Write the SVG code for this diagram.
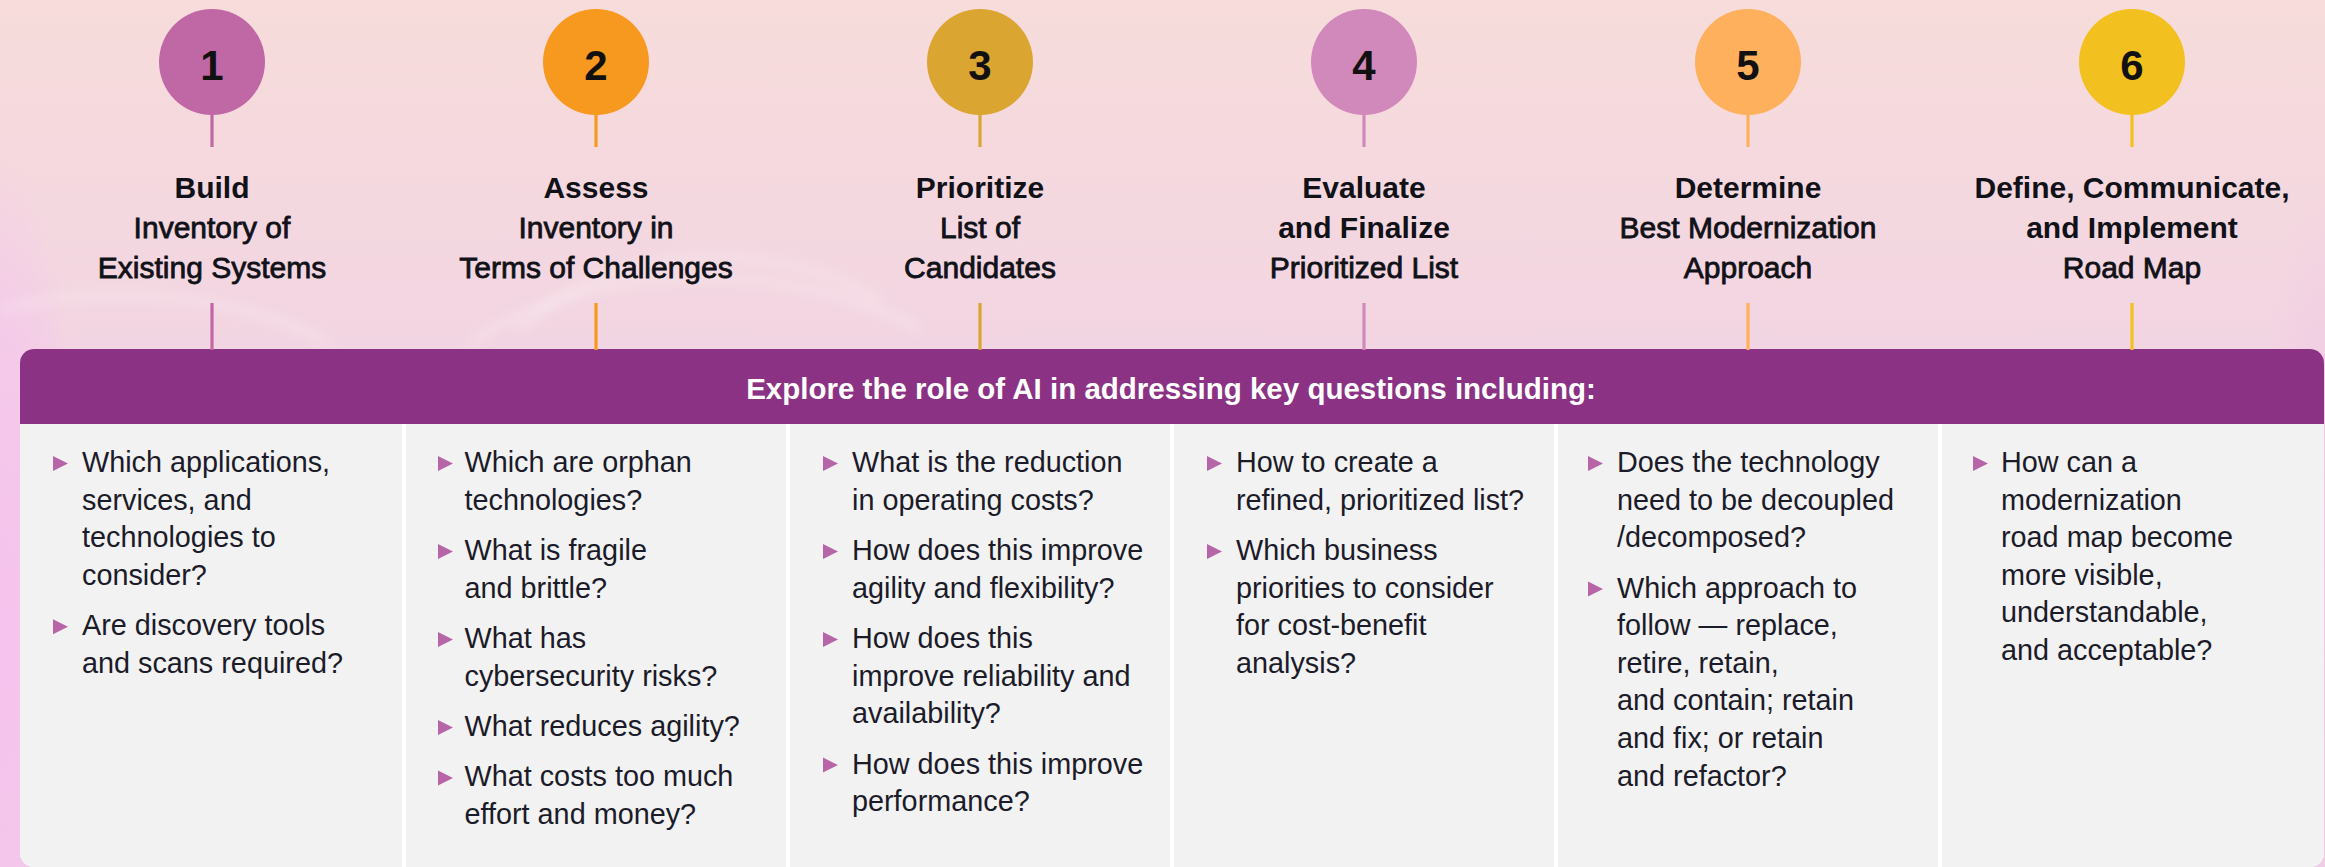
<svg xmlns="http://www.w3.org/2000/svg" xmlns:xlink="http://www.w3.org/1999/xlink" width="2325" height="867" viewBox="0 0 2325 867">
<style>
.num{font-family:"Liberation Sans",Arial,sans-serif;font-weight:bold;font-size:42px;fill:#111111;text-anchor:middle}
.tb{font-family:"Liberation Sans",Arial,sans-serif;font-weight:bold;font-size:30px;fill:#111118;text-anchor:middle}
.tm{font-family:"Liberation Sans",Arial,sans-serif;font-size:30px;fill:#111118;stroke:#111118;stroke-width:0.8;text-anchor:middle}
.hdr{font-family:"Liberation Sans",Arial,sans-serif;font-weight:bold;font-size:29.5px;fill:#ffffff;text-anchor:middle}
.q{font-family:"Liberation Sans",Arial,sans-serif;font-size:28.8px;fill:#1b1b29}
.col{fill:#f2f2f2}
.bul{fill:#b865a8}
</style>
<defs>
<linearGradient id="bg" x1="0" y1="0" x2="0" y2="1">
<stop offset="0" stop-color="#f7dcdb"/>
<stop offset="0.4" stop-color="#f2d5e2"/>
<stop offset="1" stop-color="#f0cfe6"/>
</linearGradient>
<radialGradient id="leftg" cx="0.5" cy="0.5" r="0.5">
<stop offset="0" stop-color="#f6c2ee" stop-opacity="1"/>
<stop offset="0.6" stop-color="#f6c2ee" stop-opacity="0.6"/>
<stop offset="1" stop-color="#f6c2ee" stop-opacity="0"/>
</radialGradient>
<radialGradient id="rightg" cx="0.5" cy="0.5" r="0.5">
<stop offset="0" stop-color="#f1c4e6" stop-opacity="0.8"/>
<stop offset="1" stop-color="#f1c4e6" stop-opacity="0"/>
</radialGradient>
<filter id="soft" x="-20%" y="-20%" width="140%" height="140%"><feGaussianBlur stdDeviation="6"/></filter>
<clipPath id="panelClip"><rect x="20" y="349" width="2304" height="518" rx="14" ry="14"/></clipPath>
<path id="tri" d="M0,0 L15,7.5 L0,15 Z"/>
</defs>

<!-- background -->
<rect x="0" y="0" width="2325" height="867" fill="url(#bg)"/>
<ellipse cx="0" cy="640" rx="90" ry="480" fill="url(#leftg)"/>
<ellipse cx="2325" cy="560" rx="70" ry="380" fill="url(#rightg)"/>
<g fill="none" stroke="#ffffff" stroke-opacity="0.35" stroke-width="5" filter="url(#soft)">
<path d="M520,330 C600,250 760,230 880,300"/>
<path d="M470,345 C560,270 780,250 920,330"/>
<path d="M0,310 C120,280 260,300 330,345"/>
</g>

<!-- panel -->
<g id="panel">
<rect x="20" y="349" width="2304" height="518" rx="14" ry="14" fill="#ffffff"/>
<g clip-path="url(#panelClip)">
<rect class="col" x="20" y="424" width="382" height="443"/>
<rect class="col" x="406" y="424" width="380" height="443"/>
<rect class="col" x="790" y="424" width="380" height="443"/>
<rect class="col" x="1174" y="424" width="380" height="443"/>
<rect class="col" x="1558" y="424" width="380" height="443"/>
<rect class="col" x="1942" y="424" width="382" height="443"/>
<rect x="20" y="349" width="2304" height="75" fill="#8b3284"/>
</g>
<text class="hdr" x="1171" y="399">Explore the role of AI in addressing key questions including:</text>
</g>

<!-- connectors -->
<g id="connectors" stroke-width="3.2">
<line x1="212" y1="112" x2="212" y2="147" stroke="#c067a6"/>
<line x1="212" y1="303" x2="212" y2="350" stroke="#c067a6"/>
<line x1="596" y1="112" x2="596" y2="147" stroke="#f7991f"/>
<line x1="596" y1="303" x2="596" y2="350" stroke="#f7991f"/>
<line x1="980" y1="112" x2="980" y2="147" stroke="#dba531"/>
<line x1="980" y1="303" x2="980" y2="350" stroke="#dba531"/>
<line x1="1364" y1="112" x2="1364" y2="147" stroke="#d188bb"/>
<line x1="1364" y1="303" x2="1364" y2="350" stroke="#d188bb"/>
<line x1="1748" y1="112" x2="1748" y2="147" stroke="#ffb05c"/>
<line x1="1748" y1="303" x2="1748" y2="350" stroke="#ffb05c"/>
<line x1="2132" y1="112" x2="2132" y2="147" stroke="#f2c11f"/>
<line x1="2132" y1="303" x2="2132" y2="350" stroke="#f2c11f"/>
</g>

<!-- steps -->
<g id="step1">
<circle cx="212" cy="62" r="53" fill="#c067a6"/>
<text class="num" x="212" y="80">1</text>
<text class="tb" x="212" y="198">Build</text>
<text class="tm" x="212" y="238">Inventory of</text>
<text class="tm" x="212" y="278">Existing Systems</text>
</g>
<g id="step2">
<circle cx="596" cy="62" r="53" fill="#f7991f"/>
<text class="num" x="596" y="80">2</text>
<text class="tb" x="596" y="198">Assess</text>
<text class="tm" x="596" y="238">Inventory in</text>
<text class="tm" x="596" y="278">Terms of Challenges</text>
</g>
<g id="step3">
<circle cx="980" cy="62" r="53" fill="#dba531"/>
<text class="num" x="980" y="80">3</text>
<text class="tb" x="980" y="198">Prioritize</text>
<text class="tm" x="980" y="238">List of</text>
<text class="tm" x="980" y="278">Candidates</text>
</g>
<g id="step4">
<circle cx="1364" cy="62" r="53" fill="#d188bb"/>
<text class="num" x="1364" y="80">4</text>
<text class="tb" x="1364" y="198">Evaluate</text>
<text class="tb" x="1364" y="238">and Finalize</text>
<text class="tm" x="1364" y="278">Prioritized List</text>
</g>
<g id="step5">
<circle cx="1748" cy="62" r="53" fill="#ffb05c"/>
<text class="num" x="1748" y="80">5</text>
<text class="tb" x="1748" y="198">Determine</text>
<text class="tm" x="1748" y="238">Best Modernization</text>
<text class="tm" x="1748" y="278">Approach</text>
</g>
<g id="step6">
<circle cx="2132" cy="62" r="53" fill="#f2c11f"/>
<text class="num" x="2132" y="80">6</text>
<text class="tb" x="2132" y="198">Define, Communicate,</text>
<text class="tb" x="2132" y="238">and Implement</text>
<text class="tm" x="2132" y="278">Road Map</text>
</g>

<!-- questions -->
<g id="questions1">
<use href="#tri" class="bul" x="53" y="456"/>
<use href="#tri" class="bul" x="53" y="619.2"/>
<text class="q" x="82" y="472">Which applications,</text>
<text class="q" x="82" y="509.6">services, and</text>
<text class="q" x="82" y="547.2">technologies to</text>
<text class="q" x="82" y="584.8">consider?</text>
<text class="q" x="82" y="635.2">Are discovery tools</text>
<text class="q" x="82" y="672.8">and scans required?</text>
</g>
<g id="questions2">
<use href="#tri" class="bul" x="438" y="456"/>
<use href="#tri" class="bul" x="438" y="544"/>
<use href="#tri" class="bul" x="438" y="632"/>
<use href="#tri" class="bul" x="438" y="720"/>
<use href="#tri" class="bul" x="438" y="770.4"/>
<text class="q" x="464.5" y="472">Which are orphan</text>
<text class="q" x="464.5" y="509.6">technologies?</text>
<text class="q" x="464.5" y="560">What is fragile</text>
<text class="q" x="464.5" y="597.6">and brittle?</text>
<text class="q" x="464.5" y="648">What has</text>
<text class="q" x="464.5" y="685.6">cybersecurity risks?</text>
<text class="q" x="464.5" y="736">What reduces agility?</text>
<text class="q" x="464.5" y="786.4">What costs too much</text>
<text class="q" x="464.5" y="824">effort and money?</text>
</g>
<g id="questions3">
<use href="#tri" class="bul" x="823" y="456"/>
<use href="#tri" class="bul" x="823" y="544"/>
<use href="#tri" class="bul" x="823" y="632"/>
<use href="#tri" class="bul" x="823" y="757.6"/>
<text class="q" x="852" y="472">What is the reduction</text>
<text class="q" x="852" y="509.6">in operating costs?</text>
<text class="q" x="852" y="560">How does this improve</text>
<text class="q" x="852" y="597.6">agility and flexibility?</text>
<text class="q" x="852" y="648">How does this</text>
<text class="q" x="852" y="685.6">improve reliability and</text>
<text class="q" x="852" y="723.2">availability?</text>
<text class="q" x="852" y="773.6">How does this improve</text>
<text class="q" x="852" y="811.2">performance?</text>
</g>
<g id="questions4">
<use href="#tri" class="bul" x="1207" y="456"/>
<use href="#tri" class="bul" x="1207" y="544"/>
<text class="q" x="1236" y="472">How to create a</text>
<text class="q" x="1236" y="509.6">refined, prioritized list?</text>
<text class="q" x="1236" y="560">Which business</text>
<text class="q" x="1236" y="597.6">priorities to consider</text>
<text class="q" x="1236" y="635.2">for cost-benefit</text>
<text class="q" x="1236" y="672.8">analysis?</text>
</g>
<g id="questions5">
<use href="#tri" class="bul" x="1588" y="456"/>
<use href="#tri" class="bul" x="1588" y="581.6"/>
<text class="q" x="1617" y="472">Does the technology</text>
<text class="q" x="1617" y="509.6">need to be decoupled</text>
<text class="q" x="1617" y="547.2">/decomposed?</text>
<text class="q" x="1617" y="597.6">Which approach to</text>
<text class="q" x="1617" y="635.2">follow — replace,</text>
<text class="q" x="1617" y="672.8">retire, retain,</text>
<text class="q" x="1617" y="710.4">and contain; retain</text>
<text class="q" x="1617" y="748">and fix; or retain</text>
<text class="q" x="1617" y="785.6">and refactor?</text>
</g>
<g id="questions6">
<use href="#tri" class="bul" x="1973" y="456"/>
<text class="q" x="2001" y="472">How can a</text>
<text class="q" x="2001" y="509.6">modernization</text>
<text class="q" x="2001" y="547.2">road map become</text>
<text class="q" x="2001" y="584.8">more visible,</text>
<text class="q" x="2001" y="622.4">understandable,</text>
<text class="q" x="2001" y="660">and acceptable?</text>
</g>
</svg>
